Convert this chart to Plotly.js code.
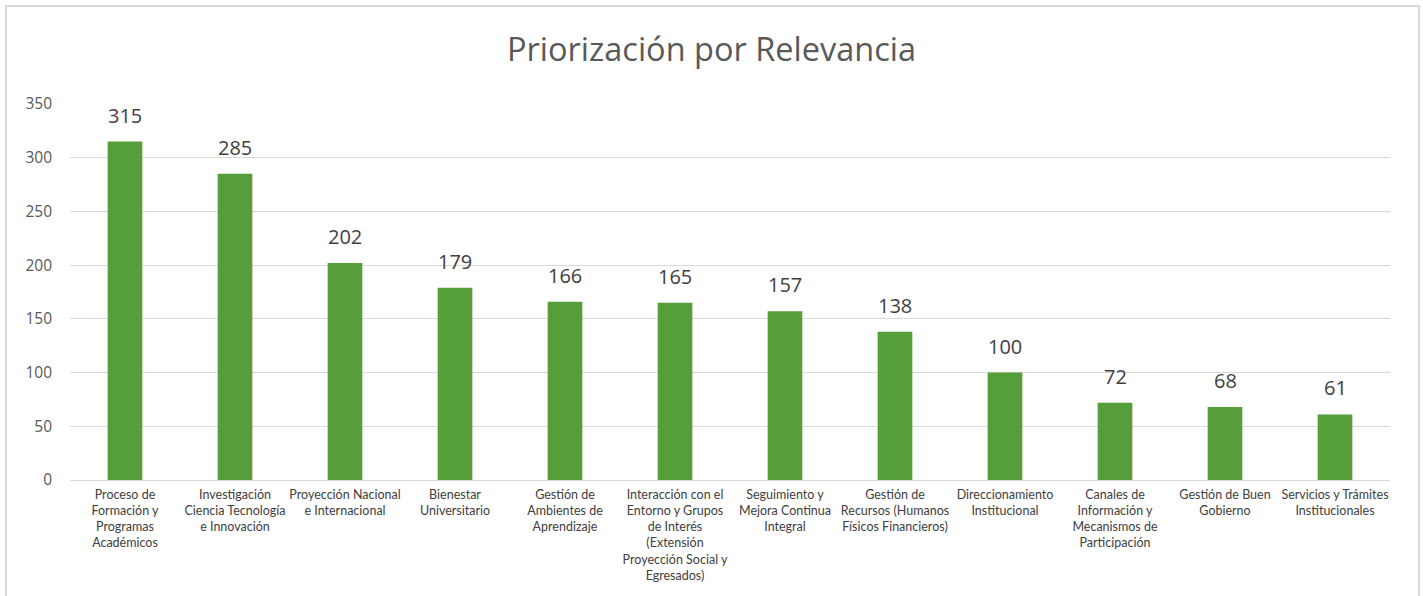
<!DOCTYPE html>
<html>
<head>
<meta charset="utf-8">
<script src="https://cdn.plot.ly/plotly-3.0.1.min.js"></script>
<style>
html,body{margin:0;padding:0;background:#fff;overflow:hidden;}
#chart{position:absolute;left:0;top:0;width:1423px;height:596px;}
#frame{position:absolute;left:5px;top:5px;width:1411px;height:640px;border:2px solid #d9d9d9;pointer-events:none;}
</style>
</head>
<body>
<div id="chart"></div>
<div id="frame"></div>
<script>
const categories = [
  "Proceso de<br>Formación y<br>Programas<br>Académicos",
  "Investigación<br>Ciencia Tecnología<br>e Innovación",
  "Proyección Nacional<br>e Internacional",
  "Bienestar<br>Universitario",
  "Gestión de<br>Ambientes de<br>Aprendizaje",
  "Interacción con el<br>Entorno y Grupos<br>de Interés<br>(Extensión<br>Proyección Social y<br>Egresados)",
  "Seguimiento y<br>Mejora Continua<br>Integral",
  "Gestión de<br>Recursos (Humanos<br>Físicos Financieros)",
  "Direccionamiento<br>Institucional",
  "Canales de<br>Información y<br>Mecanismos de<br>Participación",
  "Gestión de Buen<br>Gobierno",
  "Servicios y Trámites<br>Institucionales"
];
const values = [315, 285, 202, 179, 166, 165, 157, 138, 100, 72, 68, 61];
const yTicks = [0, 50, 100, 150, 200, 250, 300, 350];
const chartTitle = "Priorización por Relevancia";

const FONT = "Open Sans, Noto Sans, sans-serif";

const trace = {
  type: "bar",
  x: categories,
  y: values,
  marker: {color: "#559E3A", line: {width: 0}},
  hoverinfo: "x+y"
};

const annotations = categories.map((c, i) => ({
  x: c, y: values[i], xref: "x", yref: "y",
  text: String(values[i]),
  showarrow: false,
  yanchor: "bottom",
  yshift: 11,
  font: {family: FONT, size: 20, color: "#404040"}
}));

const layout = {
  width: 1423, height: 596,
  paper_bgcolor: "#ffffff", plot_bgcolor: "#ffffff",
  margin: {l: 70, r: 33, t: 104, b: 116},
  title: {
    text: chartTitle,
    x: 0.5, xref: "container", xanchor: "center",
    y: 1 - 50/596, yref: "container", yanchor: "middle",
    font: {family: FONT, size: 32.5, color: "#595959"}
  },
  bargap: 0.685,
  showlegend: false,
  xaxis: {
    tickfont: {family: "Lato, Open Sans, sans-serif", size: 12.5, color: "#404040"},
    showgrid: false, zeroline: false, showline: false,
    ticks: "", tickangle: 0, automargin: false,
    ticklabelstandoff: 5
  },
  yaxis: {
    range: [0, 350],
    tickvals: yTicks,
    ticktext: yTicks.map(String),
    tickfont: {family: FONT, size: 15.5, color: "#595959"},
    showgrid: true, gridcolor: "#d9d9d9", gridwidth: 1,
    zeroline: true, zerolinecolor: "#d9d9d9", zerolinewidth: 1,
    showline: false, ticks: "", automargin: false,
    ticklabelstandoff: 17
  },
  annotations: annotations
};

Plotly.newPlot("chart", [trace], layout, {displayModeBar: false, staticPlot: true});
</script>
</body>
</html>
